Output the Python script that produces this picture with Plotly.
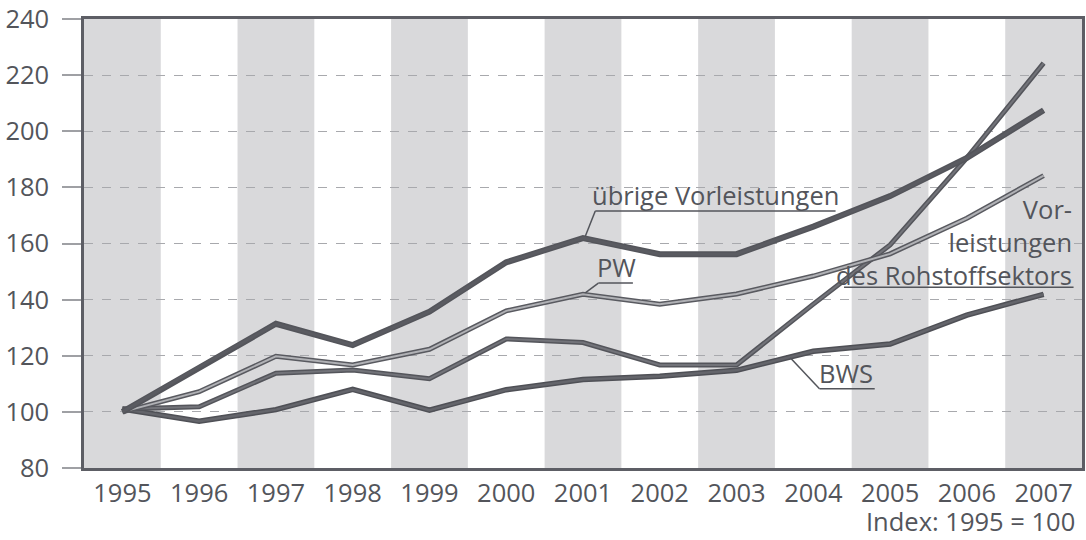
import plotly.graph_objects as go

years = list(range(1995, 2008))

uebrige = [100, 116, 131.4, 123.8, 135.7, 153.3, 161.9, 156.2, 156.2, 166.0, 176.9, 190.5, 207.5]
pw = [100, 107.2, 119.8, 116.7, 122.3, 136.0, 141.9, 138.4, 142.0, 148.4, 156.3, 169.0, 184.2]
rohstoff = [101, 101.8, 113.8, 114.9, 111.8, 126.0, 124.7, 116.7, 116.7, 138.4, 159.5, 190.5, 224.3]
bws = [101, 96.7, 100.8, 108.0, 100.6, 107.9, 111.5, 112.7, 114.8, 121.6, 124.2, 134.5, 141.9]

TXT = "#53555b"
FONT = "Open Sans"
FS = 25.5

fig = go.Figure()

# alternating grey bands for the years
for i, yr in enumerate(years):
    if i % 2 == 0:
        fig.add_shape(type="rect", xref="x", yref="paper", x0=yr - 0.5, x1=yr + 0.5,
                      y0=0, y1=1, fillcolor="#d9d9db", line_width=0, layer="below")


def double_line(ys, outer, inner, w_out, w_in):
    fig.add_trace(go.Scatter(x=years, y=ys, mode="lines", showlegend=False,
                             line=dict(color=outer, width=w_out), hoverinfo="skip"))
    fig.add_trace(go.Scatter(x=years, y=ys, mode="lines", showlegend=False,
                             line=dict(color=inner, width=w_in)))


double_line(bws, "#4f5056", "#64656b", 5.5, 2.5)
double_line(rohstoff, "#54555b", "#727379", 5, 2)
double_line(pw, "#595a60", "#b0b1b5", 5, 2)
double_line(uebrige, "#54555b", "#5a5b61", 6, 3)

# labels with underline and leader
labels = [
    dict(text="übrige Vorleistungen", x=2002.72, ul=(2001.16, 2004.29), ly=171.6,
         lead=(2001.03, 162.6)),
    dict(text="PW", x=2001.44, ul=(2001.2, 2001.65), ly=145.9, lead=(2001.03, 142.4)),
    dict(text="BWS", x=2004.42, ul=(2004.08, 2004.8), ly=108.2, lead=(2003.7, 119.3)),
]
for lb in labels:
    fig.add_annotation(x=lb["x"], y=lb["ly"] - 1.0, text=lb["text"], showarrow=False,
                       xanchor="center", yanchor="bottom",
                       font=dict(family=FONT, size=FS, color=TXT))
    fig.add_shape(type="line", x0=lb["ul"][0], x1=lb["ul"][1], y0=lb["ly"], y1=lb["ly"],
                  line=dict(color=TXT, width=1.5))
    fig.add_shape(type="line", x0=lb["lead"][0], y0=lb["lead"][1], x1=lb["ul"][0], y1=lb["ly"],
                  line=dict(color=TXT, width=1.5))

fig.add_annotation(x=2007.4, y=142.0, text="Vor-<br>leistungen<br>des Rohstoffsektors",
                   showarrow=False, xanchor="right", yanchor="bottom", align="right",
                   font=dict(family=FONT, size=FS, color=TXT))
fig.add_shape(type="line", x0=2004.4, x1=2007.39, y0=144.4, y1=144.4,
              line=dict(color=TXT, width=1.5))

fig.add_annotation(xref="paper", yref="paper", x=0.995, y=-0.1604, text="Index: 1995 = 100",
                   showarrow=False, xanchor="right", yanchor="bottom",
                   font=dict(family=FONT, size=FS, color=TXT))

fig.update_layout(
    width=1086, height=540,
    margin=dict(l=84, r=1, t=19, b=72),
    plot_bgcolor="white", paper_bgcolor="white",
    font=dict(family=FONT, size=FS, color=TXT),
    showlegend=False,
    xaxis=dict(range=[1994.5, 2007.5], tickvals=years, ticks="", showgrid=False,
               showline=True, linecolor="#5d5e65", linewidth=2.5, mirror=True,
               zeroline=False, ticklabelstandoff=1, tickfont=dict(size=FS, color=TXT)),
    yaxis=dict(range=[80, 240], dtick=20, showgrid=True, gridcolor="#a8a9ad",
               griddash="dash", gridwidth=1.2, ticks="outside", ticklen=19,
               tickcolor="#9fa0a4", tickwidth=1.5, showline=True, linecolor="#5d5e65",
               linewidth=2.5, mirror=True, zeroline=False, ticklabelstandoff=8,
               tickfont=dict(size=FS, color=TXT)),
)

fig.write_html("out.html", config={"displayModeBar": False},
               post_script="document.body.style.margin='0';")
